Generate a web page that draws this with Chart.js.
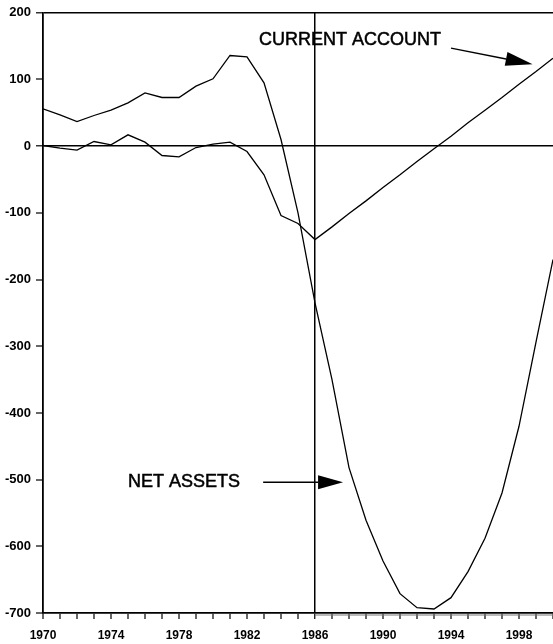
<!DOCTYPE html>
<html>
<head>
<meta charset="utf-8">
<script src="https://cdn.jsdelivr.net/npm/chart.js@4.4.0/dist/chart.umd.min.js"></script>
<style>
    html, body { margin: 0; padding: 0; background: #fff; }
    #wrap { width: 553px; height: 644px; }
</style>
</head>
<body>
<div id="wrap"><canvas id="chart" width="553" height="644"></canvas></div>
<script>
    // years on the x axis
    const years = [1970, 1971, 1972, 1973, 1974, 1975, 1976, 1977, 1978, 1979,
        1980, 1981, 1982, 1983, 1984, 1985, 1986, 1987, 1988, 1989,
        1990, 1991, 1992, 1993, 1994, 1995, 1996, 1997, 1998, 1999, 2000];

    // net assets (upper line, then the big dip)
    const netAssets = [56, 47, 37, 46, 54, 65, 80, 73, 73, 90,
        101, 136, 134, 95, 10, -100, -235, -350, -482, -561,
        -622, -671, -692, -694, -677, -638, -588, -520, -420, -294, -170];

    // current account (line around zero, then straight rise)
    const currentAccount = [1, -3, -6, 7, 2, 17, 6, -14, -16, -2,
        3, 6, -8, -43, -104, -116, -140, -121, -101, -82,
        -62, -43, -23, -4, 15, 35, 54, 73, 93, 112, 132];

    const yTicks = [200, 100, 0, -100, -200, -300, -400, -500, -600, -700];
    const xLabelYears = [1970, 1974, 1978, 1982, 1986, 1990, 1994, 1998];
    const splitYear = 1986;

    const pts = (arr) => years.map((y, i) => ({x: y, y: arr[i]}));
    const FONT = '"Liberation Sans", Arial, sans-serif';

    function arrow(ctx, x1, y1, x2, y2, headLen, headHalf) {
        const a = Math.atan2(y2 - y1, x2 - x1);
        const bx = x2 - headLen * Math.cos(a), by = y2 - headLen * Math.sin(a);
        ctx.beginPath();
        ctx.moveTo(x1, y1);
        ctx.lineTo(bx, by);
        ctx.stroke();
        ctx.beginPath();
        ctx.moveTo(x2, y2);
        ctx.lineTo(bx - headHalf * Math.sin(a), by + headHalf * Math.cos(a));
        ctx.lineTo(bx + headHalf * Math.sin(a), by - headHalf * Math.cos(a));
        ctx.closePath();
        ctx.fill();
    }

    function heavyText(ctx, txt, x, y) {
        ctx.fillText(txt, x, y);
        ctx.lineWidth = 0.5;
        ctx.strokeText(txt, x, y);
    }

    const labelsPlugin = {
        id: 'labels',
        afterDraw(chart) {
            const {ctx, chartArea, scales: {x, y}} = chart;
            ctx.save();
            ctx.fillStyle = '#000';
            ctx.strokeStyle = '#000';
            ctx.font = '18px ' + FONT;
            ctx.textBaseline = 'middle';
            ctx.textAlign = 'left';

            heavyText(ctx, 'CURRENT ACCOUNT', x.getPixelForValue(1982.7), y.getPixelForValue(159));
            ctx.lineWidth = 1.4;
            arrow(ctx, x.getPixelForValue(1994.0), y.getPixelForValue(147),
                x.getPixelForValue(1998.8), y.getPixelForValue(123), 27, 7);

            heavyText(ctx, 'NET ASSETS', x.getPixelForValue(1975.0), y.getPixelForValue(-504));
            ctx.lineWidth = 1.4;
            arrow(ctx, x.getPixelForValue(1982.95), y.getPixelForValue(-504),
                x.getPixelForValue(1987.65), y.getPixelForValue(-504), 25, 7);

            // doubled bottom rule right of the split year
            ctx.strokeStyle = '#777';
            ctx.lineWidth = 1.2;
            ctx.beginPath();
            ctx.moveTo(x.getPixelForValue(splitYear), chartArea.bottom + 2);
            ctx.lineTo(chartArea.right, chartArea.bottom + 2);
            ctx.stroke();
            ctx.restore();
        }
    };

    const lineStyle = {
        borderColor: '#000',
        borderWidth: 1.3,
        pointRadius: 0,
        tension: 0,
        fill: false
    };

    new Chart(document.getElementById('chart'), {
        type: 'line',
        data: {
            datasets: [
                {label: 'Net assets', data: pts(netAssets), ...lineStyle},
                {label: 'Current account', data: pts(currentAccount), ...lineStyle}
            ]
        },
        options: {
            responsive: false,
            animation: false,
            layout: {padding: {top: 12, right: 0, left: 0, bottom: 0}},
            plugins: {legend: {display: false}, tooltip: {enabled: false}},
            scales: {
                x: {
                    type: 'linear',
                    min: years[0],
                    max: years[years.length - 1],
                    afterBuildTicks: (s) => { s.ticks = years.map(v => ({value: v})); },
                    afterFit: (s) => { s.height = 31; s.paddingLeft = 0; s.paddingRight = 0; },
                    border: {display: true, color: '#000', width: 1.8},
                    grid: {
                        drawOnChartArea: true,
                        drawTicks: true,
                        tickLength: 6,
                        tickColor: '#000',
                        tickWidth: 1.2,
                        color: (c) => (c.tick && c.tick.value === splitYear) ? '#000' : 'rgba(0,0,0,0)',
                        lineWidth: (c) => (c.tick && c.tick.value === splitYear) ? 1.5 : 0
                    },
                    ticks: {
                        autoSkip: false,
                        maxRotation: 0,
                        padding: 9,
                        color: '#000',
                        font: {family: FONT, size: 12, weight: 'bold'},
                        callback: (v) => xLabelYears.includes(v) ? String(v) : ''
                    }
                },
                y: {
                    min: yTicks[yTicks.length - 1],
                    max: yTicks[0],
                    afterBuildTicks: (s) => { s.ticks = yTicks.map(v => ({value: v})); },
                    afterFit: (s) => { s.width = 43; },
                    border: {display: true, color: '#000', width: 1.8},
                    grid: {
                        drawOnChartArea: true,
                        drawTicks: true,
                        tickLength: 7,
                        tickColor: '#000',
                        tickWidth: 1.2,
                        color: (c) => (c.tick && (c.tick.value === 0 || c.tick.value === yTicks[0])) ? '#000' : 'rgba(0,0,0,0)',
                        lineWidth: (c) => (c.tick && (c.tick.value === 0 || c.tick.value === yTicks[0])) ? 1.6 : 0
                    },
                    ticks: {
                        padding: 5,
                        color: '#000',
                        font: {family: FONT, size: 13, weight: 'bold'},
                        callback: (v) => String(v)
                    }
                }
            }
        },
        plugins: [labelsPlugin]
    });
</script>
</body>
</html>
